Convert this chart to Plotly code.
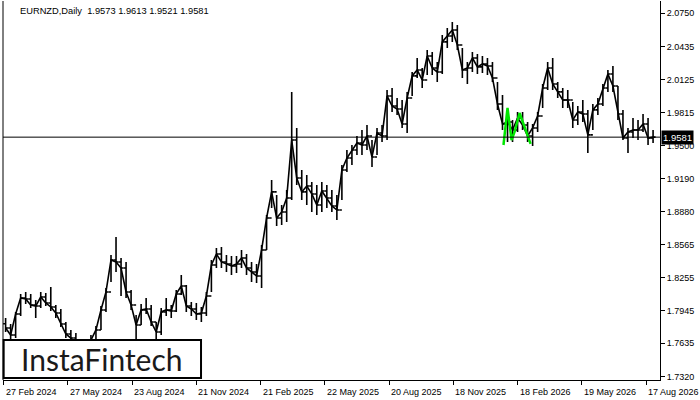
import pandas as pd
import plotly.graph_objects as go

# ---------------- data ----------------
symbol_title = "EURNZD,Daily  1.9573 1.9613 1.9521 1.9581"
last_price = 1.9581

tick_dates = ["2024-02-27", "2024-05-27", "2024-08-23", "2024-11-21", "2025-02-21",
              "2025-05-22", "2025-08-20", "2025-11-18", "2026-02-18", "2026-05-19",
              "2026-08-17"]
tick_labels = ["27 Feb 2024", "27 May 2024", "23 Aug 2024", "21 Nov 2024", "21 Feb 2025",
               "22 May 2025", "20 Aug 2025", "18 Nov 2025", "18 Feb 2026", "19 May 2026",
               "17 Aug 2026"]
price_ticks = [2.0750, 2.0435, 2.0125, 1.9815, 1.9500, 1.9190, 1.8880, 1.8565,
               1.8255, 1.7945, 1.7635, 1.7320]

# weekly bars (5 trading days each), starting 27 Feb 2024
week_high = [1.7874, 1.7817, 1.7931, 1.8101, 1.8120, 1.8101, 1.8044, 1.8120, 1.8110, 1.8167,
             1.7997, 1.7959, 1.7836, 1.7761, 1.7732, 1.7666, 1.7619, 1.7714, 1.7799, 1.7987,
             1.8157, 1.8469, 1.8639, 1.8440, 1.8403, 1.8138, 1.7902, 1.8006, 1.8063, 1.7997,
             1.7836, 1.7968, 1.8063, 1.7997, 1.8138, 1.8280, 1.8186, 1.8025, 1.8016, 1.7978,
             1.8120, 1.8422, 1.8535, 1.8544, 1.8469, 1.8459, 1.8459, 1.8516, 1.8478, 1.8403,
             1.8384, 1.8563, 1.8846, 1.9177, 1.9035, 1.8941, 1.9082, 2.0008, 1.9668, 1.9271,
             1.9224, 1.9158, 1.9130, 1.9158, 1.9130, 1.9082, 1.9035, 1.9318, 1.9460, 1.9507,
             1.9592, 1.9649, 1.9696, 1.9554, 1.9668, 1.9696, 2.0026, 2.0045, 1.9951, 1.9932,
             2.0008, 2.0196, 2.0328, 2.0234, 2.0404, 2.0385, 2.0291, 2.0546, 2.0612, 2.0668,
             2.0640, 2.0423, 2.0291, 2.0385, 2.0366, 2.0347, 2.0328, 2.0291, 2.0102, 1.9979,
             1.9819, 1.9743, 1.9819, 1.9819, 1.9724, 1.9705, 1.9819, 2.0083, 2.0291, 2.0328,
             2.0102, 2.0045, 2.0026, 1.9913, 1.9875, 1.9932, 1.9838, 1.9894, 1.9951, 2.0083,
             2.0215, 2.0253, 2.0064, 1.9838, 1.9668, 1.9762, 1.9743, 1.9800, 1.9762, 1.9649]
week_low = [1.7742, 1.7666, 1.7685, 1.7893, 1.8006, 1.7968, 1.7874, 1.7968, 1.7987, 1.7940,
            1.7874, 1.7789, 1.7685, 1.7648, 1.7591, 1.7515, 1.7478, 1.7525, 1.7648, 1.7761,
            1.7931, 1.8214, 1.8308, 1.8082, 1.8063, 1.7950, 1.7619, 1.7808, 1.7912, 1.7799,
            1.7619, 1.7714, 1.7893, 1.7874, 1.7931, 1.8091, 1.7931, 1.7893, 1.7855, 1.7836,
            1.7893, 1.8120, 1.8346, 1.8346, 1.8308, 1.8280, 1.8299, 1.8346, 1.8280, 1.8214,
            1.8204, 1.8157, 1.8516, 1.8912, 1.8743, 1.8752, 1.8780, 1.8988, 1.9130, 1.8988,
            1.8941, 1.8875, 1.8846, 1.8875, 1.8912, 1.8875, 1.8799, 1.8988, 1.9252, 1.9318,
            1.9413, 1.9413, 1.9460, 1.9300, 1.9413, 1.9536, 1.9554, 1.9819, 1.9790, 1.9668,
            1.9620, 1.9970, 2.0140, 2.0045, 2.0168, 2.0168, 2.0102, 2.0177, 2.0423, 2.0480,
            2.0404, 2.0140, 2.0083, 2.0196, 2.0177, 2.0187, 2.0168, 2.0102, 1.9838, 1.9649,
            1.9536, 1.9536, 1.9630, 1.9649, 1.9536, 1.9498, 1.9630, 1.9856, 2.0026, 2.0026,
            1.9951, 1.9856, 1.9856, 1.9668, 1.9696, 1.9724, 1.9432, 1.9649, 1.9790, 1.9875,
            2.0008, 2.0008, 1.9743, 1.9554, 1.9432, 1.9573, 1.9554, 1.9630, 1.9507, 1.9526]
week_close = [1.7780, 1.7714, 1.7912, 1.8063, 1.8053, 1.7997, 1.7987, 1.8072, 1.8016, 1.7978,
              1.7921, 1.7817, 1.7723, 1.7685, 1.7619, 1.7572, 1.7553, 1.7666, 1.7761, 1.7950,
              1.8120, 1.8422, 1.8403, 1.8346, 1.8120, 1.7997, 1.7808, 1.7950, 1.7959, 1.7836,
              1.7742, 1.7931, 1.7950, 1.7940, 1.8101, 1.8176, 1.7987, 1.7959, 1.7912, 1.7921,
              1.8082, 1.8374, 1.8478, 1.8403, 1.8384, 1.8365, 1.8384, 1.8440, 1.8346, 1.8308,
              1.8271, 1.8516, 1.8818, 1.9064, 1.8818, 1.8875, 1.9007, 1.9554, 1.9196, 1.9064,
              1.9120, 1.9045, 1.8941, 1.9073, 1.9007, 1.8931, 1.8894, 1.9271, 1.9384, 1.9460,
              1.9526, 1.9507, 1.9592, 1.9394, 1.9620, 1.9592, 1.9970, 1.9875, 1.9847, 1.9705,
              1.9951, 2.0159, 2.0215, 2.0121, 2.0347, 2.0234, 2.0196, 2.0480, 2.0536, 2.0593,
              2.0451, 2.0215, 2.0234, 2.0328, 2.0244, 2.0272, 2.0253, 2.0140, 1.9894, 1.9705,
              1.9724, 1.9649, 1.9762, 1.9696, 1.9592, 1.9668, 1.9781, 2.0045, 2.0234, 2.0083,
              2.0008, 1.9932, 1.9932, 1.9743, 1.9819, 1.9800, 1.9602, 1.9838, 1.9894, 2.0045,
              2.0177, 2.0064, 1.9800, 1.9573, 1.9630, 1.9649, 1.9649, 1.9705, 1.9573, 1.9581]
first_open = 1.7820

# green pattern line (trading-day index, price)
pattern_day = [498, 502, 506, 509, 514, 525]
pattern_price = [1.9507, 1.9856, 1.9554, 1.9630, 1.9809, 1.9517]

# ---------------- trading-day calendar ----------------
days = pd.bdate_range("2024-02-27", "2026-12-31")
days = days[~(((days.month == 12) & (days.day == 25)) | ((days.month == 1) & (days.day == 1)))]
day_pos = {d.strftime("%Y-%m-%d"): i for i, d in enumerate(days)}
tick_idx = [day_pos[d] for d in tick_dates]

n = len(week_close)
week_idx = [2 + 5 * k for k in range(n)]
week_open = [first_open] + week_close[:-1]

FONT = "Liberation Sans, Arial, sans-serif"

fig = go.Figure()
# close path joining the weekly bars (dense daily look)
fig.add_trace(go.Scatter(
    x=week_idx, y=week_close, mode="lines",
    line=dict(color="black", width=1.6), hoverinfo="skip", showlegend=False))
fig.add_trace(go.Ohlc(
    x=week_idx, open=week_open, high=week_high, low=week_low, close=week_close,
    increasing=dict(line=dict(color="black", width=1.6)),
    decreasing=dict(line=dict(color="black", width=1.6)),
    tickwidth=0.5, hoverinfo="skip", showlegend=False))

fig.add_trace(go.Scatter(
    x=pattern_day, y=pattern_price, mode="lines",
    line=dict(color="#00e600", width=2.5), hoverinfo="skip", showlegend=False))

# current price line
fig.add_shape(type="line", xref="paper", yref="y", x0=0, x1=1, y0=last_price, y1=last_price,
              line=dict(color="black", width=1))
# left border
fig.add_shape(type="line", xref="paper", yref="paper", x0=0, x1=0, y0=0, y1=1,
              line=dict(color="black", width=1))

# logo box
fig.add_shape(type="rect", xref="paper", yref="paper", x0=0.001, x1=0.3014, y0=0.0053, y1=0.1055,
              fillcolor="white", line=dict(color="black", width=2), layer="above")
fig.add_annotation(text="InstaFintech", xref="paper", yref="paper", x=0.1507, y=0.0554,
                   showarrow=False, xanchor="center", yanchor="middle",
                   font=dict(family="Lato, Inter, sans-serif", size=30, color="#1a1a1a"))

# title
fig.add_annotation(text=symbol_title, xref="paper", yref="paper", x=0.0228, y=0.9736,
                   showarrow=False, xanchor="left", yanchor="middle",
                   font=dict(family=FONT, size=9.3, color="black"))

# x tick labels (left aligned at ticks, MT4 style)
for xi, lab in zip(tick_idx, tick_labels):
    fig.add_annotation(text=lab, x=xi, xref="x", y=0, yref="paper", yanchor="top",
                       xanchor="left", yshift=-5, xshift=0, showarrow=False,
                       font=dict(family=FONT, size=9, color="black"))

# price label
fig.add_annotation(text=f"{last_price:.4f}", x=1, xref="paper", y=last_price, yref="y",
                   xanchor="left", yanchor="middle", xshift=1, showarrow=False,
                   bgcolor="black", font=dict(family=FONT, size=9.5, color="white"),
                   borderpad=1)

fig.update_layout(
    width=700, height=400,
    margin=dict(l=3, r=40, t=1, b=20),
    paper_bgcolor="white", plot_bgcolor="white",
    showlegend=False,
    xaxis=dict(range=[-0.6, 653.9], showgrid=False, zeroline=False, showline=True,
               linecolor="black", linewidth=1, ticks="outside", ticklen=4, tickcolor="black",
               tickvals=tick_idx, showticklabels=False, rangeslider=dict(visible=False),
               fixedrange=True),
    yaxis=dict(range=[1.72887, 2.08661], side="right", showgrid=False, zeroline=False,
               showline=True, linecolor="black", linewidth=1, ticks="outside", ticklen=4,
               tickcolor="black", tickvals=price_ticks,
               ticktext=[f"{v:.4f}" for v in price_ticks],
               tickfont=dict(family=FONT, size=9, color="black"), fixedrange=True),
)

fig.write_html("out.html", config={"displayModeBar": False},
               post_script="document.body.style.margin='0px';")
